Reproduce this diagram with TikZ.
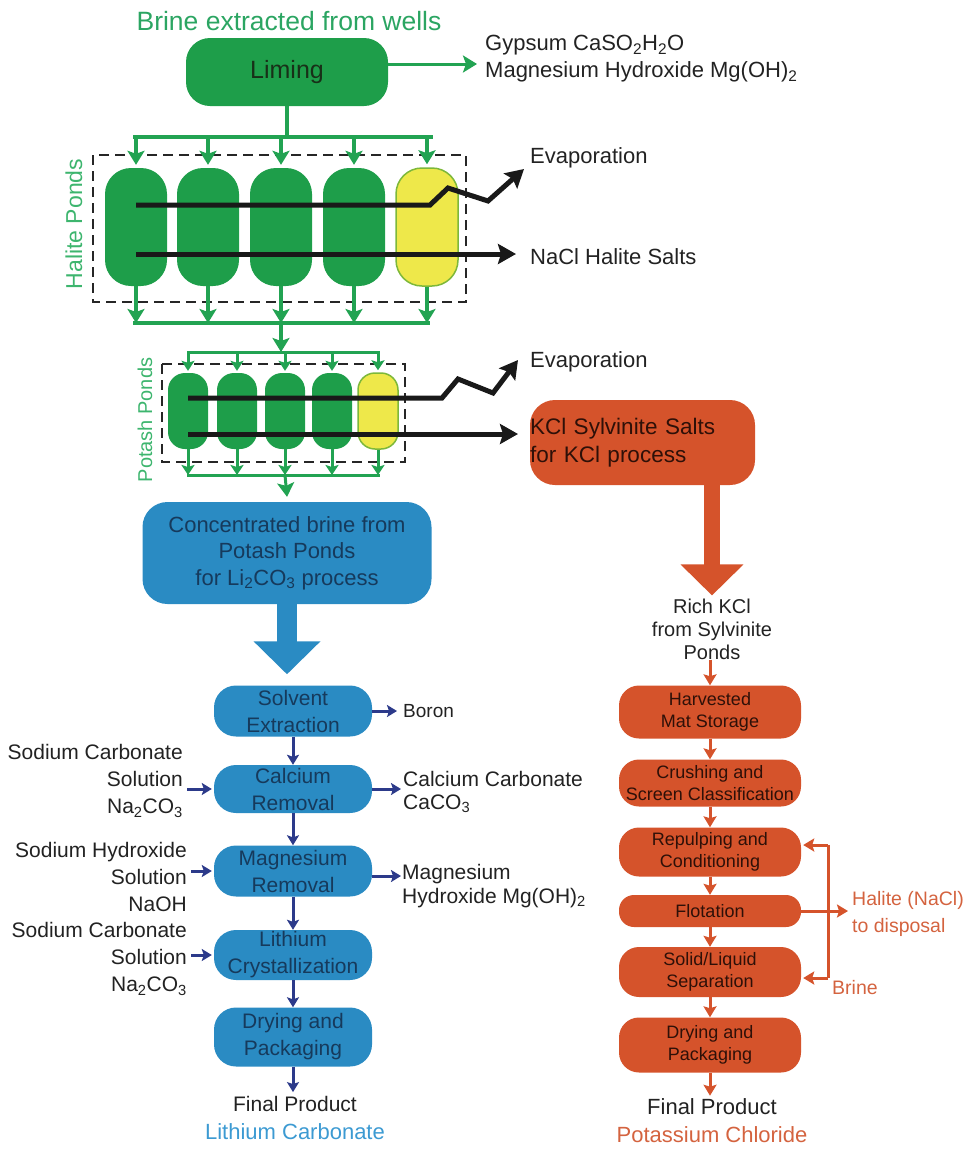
\documentclass[tikz,border=0pt]{standalone}
\usepackage{fontspec}
\setmainfont{Liberation Sans}
\usetikzlibrary{arrows.meta,calc}
\definecolor{gfill}{HTML}{1E9E4A}
\definecolor{garrow}{HTML}{22A352}
\definecolor{gtitle}{HTML}{2BA562}
\definecolor{glabel}{HTML}{3DB56E}
\definecolor{yfill}{HTML}{EEE84A}
\definecolor{yborder}{HTML}{7DB83A}
\definecolor{bfill}{HTML}{2A8BC3}
\definecolor{btext}{HTML}{163A5C}
\definecolor{navy}{HTML}{2C3A8A}
\definecolor{ofill}{HTML}{D5532B}
\definecolor{otext}{HTML}{2E1008}
\definecolor{olabel}{HTML}{D4633F}
\definecolor{bltext}{HTML}{3C9AD2}
\definecolor{dtext}{HTML}{222222}
\definecolor{ltext}{HTML}{183018}
\newcommand\fsz[2]{\fontsize{#1}{#2}\selectfont}
\begin{document}
\begin{tikzpicture}[x=1pt,y=-1pt,
  gline/.style={draw=garrow, line width=4pt},
  garr/.style={gline, -{Stealth[length=14pt,width=17pt,inset=3pt]}},
  pline/.style={draw=garrow, line width=3pt},
  parr/.style={pline, -{Stealth[length=10pt,width=13pt,inset=2pt]}},
  blk/.style={draw=black!90, line width=5pt, line join=miter, -{Stealth[length=18pt,width=20pt,inset=3pt]}},
  narr/.style={draw=navy, line width=3pt, -{Stealth[length=10pt,width=12pt,inset=2pt]}},
  oarr/.style={draw=ofill, line width=3pt, -{Stealth[length=11pt,width=13pt,inset=2pt]}},
  oline/.style={draw=ofill, line width=3pt},
  dashbox/.style={draw=black!85, line width=2pt, dash pattern=on 10pt off 6pt},
  hpond/.style={fill=gfill, rounded corners=26pt, minimum width=62pt, minimum height=118pt, inner sep=0pt},
  ppond/.style={fill=gfill, rounded corners=17pt, minimum width=40pt, minimum height=76pt, inner sep=0pt},
  yel/.style={fill=yfill, draw=yborder, line width=1.5pt},
  bbox/.style={fill=bfill, rounded corners=22pt, minimum width=158pt, align=center, inner sep=0pt, text=btext, font=\fsz{21}{27}},
  obox/.style={fill=ofill, rounded corners=20pt, minimum width=182pt, align=center, inner sep=0pt, text=otext, font=\fsz{18}{22}},
  lbl/.style={inner sep=0pt, text=dtext, font=\fsz{21}{27}},
  bfat/.style={draw=bfill, line width=20pt, -{Triangle[length=33pt,width=65pt]}},
  ofat/.style={draw=ofill, line width=16pt, -{Triangle[length=31pt,width=61pt]}}
]
\useasboundingbox (0,0) rectangle (965,1149);

% ---------- top ----------
\node[inner sep=0pt, font=\fsz{26.5}{30}, text=gtitle] (title) at (289,21) {Brine extracted from wells};
\node[fill=gfill, rounded corners=24pt, minimum width=202pt, minimum height=68pt, inner sep=0pt, font=\fsz{25}{30}, text=ltext] (liming) at (287,72) {Liming};
\node[lbl, font=\fsz{22}{27}, anchor=west, align=left] (gyp) at (485,59) {Gypsum CaSO\textsubscript{2}H\textsubscript{2}O\\Magnesium Hydroxide Mg(OH)\textsubscript{2}};
\draw[garr, line width=3pt] ([yshift=8pt]liming.east) -- ($([yshift=8pt]liming.east -| gyp.west)+(-8,0)$);

% ---------- halite ponds ----------
\draw[dashbox] (93,155) rectangle (466,302);
\node[hpond] (hp1) at (136,227) {};
\node[hpond] (hp2) at (208,227) {};
\node[hpond] (hp3) at (281,227) {};
\node[hpond] (hp4) at (354,227) {};
\node[hpond, yel] (hp5) at (427,227) {};
\node[rotate=90, inner sep=0pt, font=\fsz{23}{28}, text=glabel] (hlbl) at (74,224) {Halite Ponds};

\coordinate (hbarL) at (133,137);
\coordinate (hbarR) at (433,137);
\coordinate (hbotL) at (133,323);
\coordinate (hbotR) at (430,323);
\draw[gline] (liming.south) -- (liming.south |- hbarL);
\draw[gline] (hbarL) -- (hbarR);
\foreach \p in {hp1,hp2,hp3,hp4,hp5}{
  \draw[garr] (\p.north |- hbarL) -- ($(\p.north)+(0,-3)$);
  \draw[garr] (\p.south) -- (\p.south |- hbotL);
}
\draw[gline] (hbotL) -- (hbotR);

\node[lbl, font=\fsz{22}{27}, anchor=west] (evap1) at (530,158) {Evaporation};
\node[lbl, font=\fsz{22}{27}, anchor=west] (nacl) at (530,257) {NaCl Halite Salts};
\draw[blk] (hp1.center |- 0,205) -- (430,205) -- (448,188) -- (488,201) -- (524,169);
\draw[blk] (hp1.center |- 0,254) -- (516,254);

% ---------- potash ponds ----------
\coordinate (pbarL) at (187,352);
\coordinate (pbarR) at (380,352);
\coordinate (pbotL) at (187,475);
\coordinate (pbotR) at (380,475);
\draw[garr] (hp3.south |- hbotL) -- (hp3.south |- pbarL);
\draw[dashbox] (162,364) rectangle (405,462);
\node[ppond] (pp1) at (188,411) {};
\node[ppond] (pp2) at (237,411) {};
\node[ppond] (pp3) at (285,411) {};
\node[ppond] (pp4) at (332,411) {};
\node[ppond, yel] (pp5) at (378,411) {};
\node[rotate=90, inner sep=0pt, font=\fsz{20}{24}, text=glabel] (plbl) at (145,420) {Potash Ponds};
\draw[pline] (pbarL) -- (pbarR);
\foreach \p in {pp1,pp2,pp3,pp4,pp5}{
  \draw[parr] (\p.north |- pbarL) -- ($(\p.north)+(0,-2)$);
  \draw[parr] (\p.south) -- (\p.south |- pbotL);
}
\draw[pline] (pbotL) -- (pbotR);

\node[lbl, font=\fsz{22}{27}, anchor=west] (evap2) at (530,362) {Evaporation};
\node[fill=ofill, rounded corners=25pt, text width=225pt, minimum height=85pt, inner xsep=0pt, align=left, text=otext, font=\fsz{22.5}{28}] (kcl) at (642.5,442.5) {KCl Sylvinite Salts\\for KCl process};
\draw[blk] (pp1.center |- 0,398) -- (442,398) -- (458,379) -- (493,393) -- (518,360);
\draw[blk] (pp1.center |- 0,434) -- (518,434);

% ---------- lithium branch ----------
\node[fill=bfill, rounded corners=25pt, minimum width=289pt, minimum height=102pt, inner sep=0pt, align=center, font=\fsz{22}{26.5}, text=btext] (conc) at (287,553) {Concentrated brine from\\Potash Ponds\\for Li\textsubscript{2}CO\textsubscript{3} process};
\draw[garr, line width=3pt] (pp3.south |- pbotL) -- ($(conc.north)+(0,-5)$);

\node[bbox, minimum height=51pt] (solv) at (293,711) {Solvent\\Extraction};
\node[bbox, minimum height=48pt] (cal) at (293,789) {Calcium\\Removal};
\node[bbox, minimum height=51pt] (mag) at (293,871) {Magnesium\\Removal};
\node[bbox, minimum height=50pt] (lith) at (293,955) {Lithium\\Crystallization};
\node[bbox, minimum height=59pt] (bdry) at (293,1037) {Drying and\\Packaging};
\node[lbl, font=\fsz{21}{26}] (bfp1) at (295,1104) {Final Product};
\node[inner sep=0pt, font=\fsz{22}{26}, text=bltext] (bfp2) at (295,1132) {Lithium Carbonate};

\draw[bfat, shorten >=11pt] (conc.south) -- (conc.south |- solv.north);
\draw[narr] (solv.south) -- (cal.north);
\draw[narr] (cal.south) -- (mag.north);
\draw[narr] (mag.south) -- (lith.north);
\draw[narr] (lith.south) -- (bdry.north);
\draw[narr] (bdry.south) -- ($(bdry.south |- bfp1.north)+(0,-4)$);

\node[lbl, align=right, anchor=east] (in1) at (183,781) {Sodium Carbonate\\Solution\\Na\textsubscript{2}CO\textsubscript{3}};
\node[lbl, align=right, anchor=east] (in2) at (187,877) {Sodium Hydroxide\\Solution\\NaOH};
\node[lbl, align=right, anchor=east] (in3) at (187,959) {Sodium Carbonate\\Solution\\Na\textsubscript{2}CO\textsubscript{3}};
\draw[narr] ($(in1.east |- cal.west)+(4,0)$) -- ($(cal.west)+(-2,0)$);
\draw[narr] ($(in2.east |- mag.west)+(4,0)$) -- ($(mag.west)+(-2,0)$);
\draw[narr] ($(in3.east |- lith.west)+(4,0)$) -- ($(lith.west)+(-2,0)$);

\node[lbl, font=\fsz{19}{24}, anchor=west] (boron) at (403,711) {Boron};
\node[lbl, font=\fsz{21}{23.5}, anchor=west, align=left] (caco) at (403,792) {Calcium Carbonate\\CaCO\textsubscript{3}};
\node[lbl, font=\fsz{21}{24}, anchor=west, align=left] (mgoh) at (402,886) {Magnesium\\Hydroxide Mg(OH)\textsubscript{2}};
\draw[narr] (solv.east) -- ($(boron.west)+(-6,0)$);
\draw[narr] (cal.east) -- ($(caco.west |- cal.east)+(-2,0)$);
\draw[narr] (mag.east |- 0,876) -- ($(mgoh.west |- 0,876)+(-1,0)$);

% ---------- potassium branch ----------
\node[lbl, font=\fsz{20}{23}, align=center] (rich) at (712,629) {Rich KCl\\from Sylvinite\\Ponds};
\draw[ofat] (kcl.south -| rich.north) -- ($(rich.north)+(0,-3)$);

\node[obox, minimum height=53pt] (harv) at (710,712) {Harvested\\Mat Storage};
\node[obox, minimum height=47pt] (crush) at (710,783) {Crushing and\\Screen Classification};
\node[obox, minimum height=49pt] (rep) at (710,852) {Repulping and\\Conditioning};
\node[obox, minimum height=32pt, rounded corners=15pt] (flot) at (710,911) {Flotation};
\node[obox, minimum height=50pt] (sol) at (710,972) {Solid/Liquid\\Separation};
\node[obox, minimum height=55pt] (odry) at (710,1045) {Drying and\\Packaging};
\node[lbl, font=\fsz{22}{26}] (ofp1) at (712,1107) {Final Product};
\node[inner sep=0pt, font=\fsz{22}{26}, text=olabel] (ofp2) at (712,1135) {Potassium Chloride};

\draw[oarr] (rich.south -| harv.north) -- (harv.north);
\draw[oarr] (harv.south) -- (crush.north);
\draw[oarr] (crush.south) -- (rep.north);
\draw[oarr] (rep.south) -- (flot.north);
\draw[oarr] (flot.south) -- (sol.north);
\draw[oarr] (sol.south) -- (odry.north);
\draw[oarr] (odry.south) -- ($(odry.south |- ofp1.north)+(0,-3)$);

\node[inner sep=0pt, font=\fsz{19.5}{27}, text=olabel, anchor=west, align=left] (hal) at (852,914) {Halite (NaCl)\\to disposal};
\node[inner sep=0pt, font=\fsz{19.5}{24}, text=olabel, anchor=west] (brine) at (832,988) {Brine};
\coordinate (fbtop) at (828,845);
\coordinate (fbbot) at (828,978);
\draw[oline] (fbtop) -- (fbbot);
\draw[oarr] (fbtop) -- ($(fbtop -| rep.east)+(2,0)$);
\draw[oarr] (fbbot) -- ($(fbbot -| sol.east)+(2,0)$);
\draw[oarr] (flot.east) -- ($(hal.west |- flot.east)+(-4,0)$);
\end{tikzpicture}
\end{document}
